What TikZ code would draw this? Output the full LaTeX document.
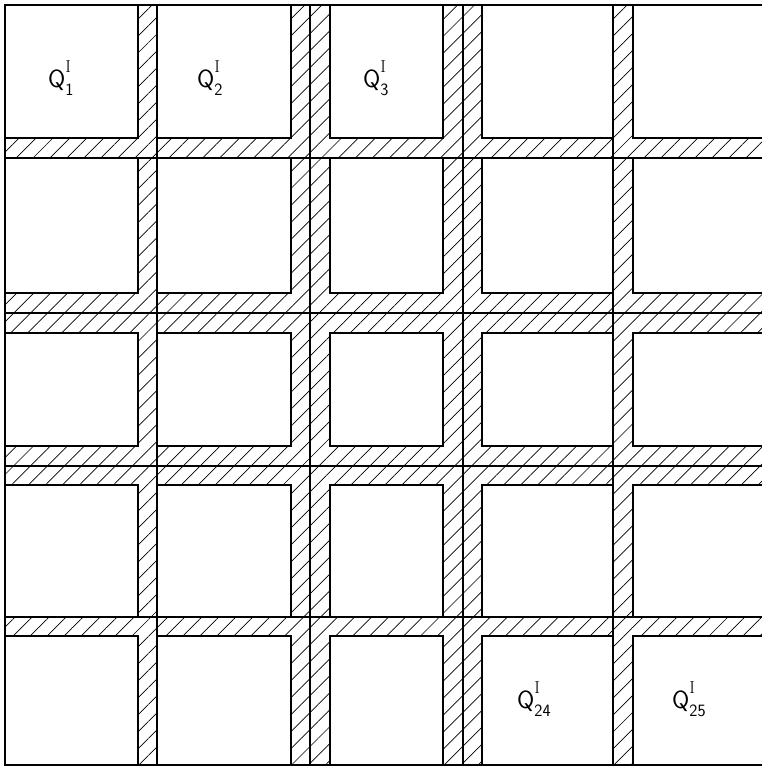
\documentclass[tikz,border=0pt]{standalone}
\usetikzlibrary{patterns.meta}
\newcommand{\qcell}[1]{$\mathsf{Q}^{\raisebox{5pt}{$\scriptstyle\mathrm{I}$}}_{\raisebox{-2pt}{$\scriptstyle\mathsf{#1}$}}$}
\begin{document}
\begin{tikzpicture}[x=1pt, y=-1pt,
		hatch/.style={pattern={Lines[angle=45,distance=12pt,line width=0.7pt]}},
		cell/.style={fill=white, draw=black, line width=2.4pt},
		midline/.style={draw=black, line width=1.8pt},
		qlabel/.style={anchor=base west, inner sep=0pt, font=\fontsize{25}{29}\selectfont}]
		\useasboundingbox (0,0) rectangle (761,768);
		\fill[white] (0,0) rectangle (761,768);
		\fill[hatch] (5,5) rectangle (775,765);
		\foreach \xa/\xb in {5/138, 157/291, 330/443, 482/613, 633/775}{
			\foreach \ya/\yb in {5/138, 158/293, 333/446, 485/617, 636/765}{
				\draw[cell] (\xa,\ya) rectangle (\xb,\yb);
			}
		}
		\foreach \xc in {5, 157, 310, 463, 613}{
			\draw[midline] (\xc,5) -- (\xc,765);
		}
		\foreach \yc in {5, 158, 313, 466, 617, 765}{
			\draw[midline] (5,\yc) -- (775,\yc);
		}
		\node[qlabel] (q1) at (48,87) {\qcell{1}};
		\node[qlabel] (q2) at (197,87) {\qcell{2}};
		\node[qlabel] (q3) at (363,87) {\qcell{3}};
		\node[qlabel] (q24) at (517,708) {\qcell{24}};
		\node[qlabel] (q25) at (672,708) {\qcell{25}};
	\end{tikzpicture}
\end{document}
